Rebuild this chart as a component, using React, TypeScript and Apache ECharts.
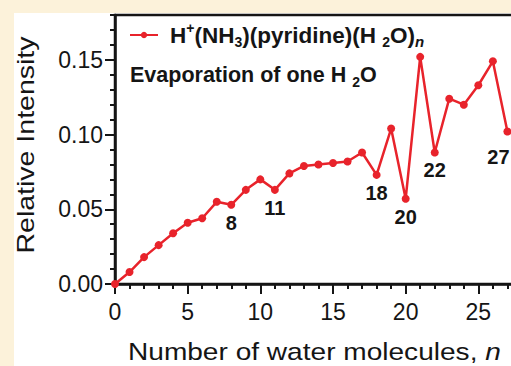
import React, { useEffect, useRef } from "react";
import * as echarts from "echarts";

const nValues = [0, 1, 2, 3, 4, 5, 6, 7, 8, 9, 10, 11, 12, 13, 14, 15, 16, 17, 18, 19, 20, 21, 22, 23, 24, 25, 26, 27];
const intensities = [
  0, 0.008, 0.018, 0.026, 0.034, 0.041, 0.044, 0.055, 0.053, 0.063, 0.07, 0.063, 0.074, 0.079,
  0.08, 0.081, 0.082, 0.088, 0.073, 0.104, 0.057, 0.152, 0.088, 0.124, 0.12, 0.133, 0.149, 0.102,
];
const labeledN = [8, 11, 18, 20, 22, 27];
const yMajorTicks = [0, 0.05, 0.1, 0.15];
const seriesName = "H+(NH3)(pyridine)(H2O)n";
const yTitle = "Relative Intensity";
const xTitle = "Number of water molecules, ";
const xTitleVar = "n";
const noteMain = "Evaporation of one H ";
const noteSub = "2";
const noteEnd = "O";

const FONT = "'Liberation Sans', Arial, Helvetica, sans-serif";
const RED = "#E8232B";
const INK = "#151515";

export default function App() {
  const ref = useRef<HTMLDivElement>(null);
  useEffect(() => {
    document.body.style.margin = "0";
    const chart = echarts.init(ref.current!, null, { renderer: "svg" });
    const data = nValues.map((n, i) => {
      const item: any = { value: [n, intensities[i]] };
      if (labeledN.includes(n)) {
        item.label = n === 27 ? { show: true, distance: 11, offset: [-9, 0] } : { show: true, distance: 4 };
      }
      return item;
    });
    chart.setOption({
      animation: false,
      backgroundColor: "#ffffff",
      textStyle: { fontFamily: FONT },
      grid: {
        left: 115,
        top: 15,
        bottom: 82,
        right: -40,
        show: true,
        borderColor: INK,
        borderWidth: 2.5,
        backgroundColor: "transparent",
        outerBoundsMode: "none",
      },
      legend: {
        data: [seriesName],
        left: 124,
        top: 16,
        itemWidth: 28,
        itemHeight: 8,
        formatter: () =>
          "{sp|}{b|H}{sup|+}{b|(NH}{sub|3}{b|)(pyridine)(H }{sub|2}{b|O)}{subi|n}",
        textStyle: {
          rich: {
            sp: { width: 7 },
            b: { fontSize: 22.5, fontWeight: "bold", color: INK, fontFamily: FONT, lineHeight: 28 },
            sup: { fontSize: 14, fontWeight: "bold", color: INK, fontFamily: FONT, verticalAlign: "top", lineHeight: 28 },
            sub: { fontSize: 14, fontWeight: "bold", color: INK, fontFamily: FONT, verticalAlign: "bottom", lineHeight: 28 },
            subi: { fontSize: 15, fontWeight: "bold", fontStyle: "italic", color: INK, fontFamily: FONT, verticalAlign: "bottom", lineHeight: 28 },
          },
        },
      },
      xAxis: {
        type: "value",
        min: 0,
        max: 30,
        interval: 5,
        axisLine: { show: true, onZero: false, lineStyle: { color: INK, width: 2.5 } },
        axisTick: { show: true, length: 10, lineStyle: { color: INK, width: 2 } },
        minorTick: { show: true, splitNumber: 5, length: 5, lineStyle: { color: INK, width: 2 } },
        axisLabel: { fontSize: 23, color: INK, margin: 16, showMaxLabel: false, fontFamily: FONT },
        splitLine: { show: false },
        minorSplitLine: { show: false },
      },
      yAxis: [
        {
          type: "value",
          position: "left",
          min: 0,
          max: 0.18,
          interval: 0.05,
          axisLine: { show: true, onZero: false, lineStyle: { color: INK, width: 2.5 } },
          axisTick: { show: true, length: 10, customValues: yMajorTicks, lineStyle: { color: INK, width: 2 } },
          axisLabel: {
            fontSize: 23,
            color: INK,
            margin: 12,
            customValues: yMajorTicks,
            fontFamily: FONT,
            formatter: (v: number) => v.toFixed(2),
          },
          splitLine: { show: false },
        },
        {
          type: "value",
          position: "left",
          offset: 0,
          min: 0,
          max: 0.18,
          interval: 0.01,
          axisLine: { show: false },
          axisTick: { show: true, length: 5, lineStyle: { color: INK, width: 2 } },
          axisLabel: { show: false },
          splitLine: { show: false },
        },
      ],
      graphic: [
        { type: "rect", shape: { x: 0, y: 0, width: 14, height: 366 }, style: { fill: "#FCF2DA" }, silent: true },
        { type: "rect", shape: { x: 0, y: 0, width: 511, height: 13 }, style: { fill: "#FCF2DA" }, silent: true },
        {
          type: "text",
          x: 26,
          y: 145,
          rotation: Math.PI / 2,
          scaleX: 1.24,
          style: {
            text: yTitle,
            fontSize: 23,
            fontFamily: FONT,
            fill: INK,
            align: "center",
            verticalAlign: "middle",
          },
        },
        {
          type: "text",
          x: 128,
          y: 352,
          scaleX: 1.17,
          style: {
            text: "{r|" + xTitle + "}{i|" + xTitleVar + "}",
            align: "left",
            verticalAlign: "middle",
            rich: {
              r: { fontSize: 24, fontFamily: FONT, fill: INK, color: INK },
              i: { fontSize: 24, fontFamily: FONT, fontStyle: "italic", fill: INK, color: INK },
            },
          },
        },
        {
          type: "text",
          x: 130,
          y: 75,
          style: {
            text: "{b|" + noteMain + "}{s|" + noteSub + "}{b|" + noteEnd + "}",
            align: "left",
            verticalAlign: "middle",
            rich: {
              b: { fontSize: 21.5, fontWeight: "bold", fontFamily: FONT, fill: INK, color: INK, lineHeight: 28 },
              s: { fontSize: 14, fontWeight: "bold", fontFamily: FONT, fill: INK, color: INK, verticalAlign: "bottom", lineHeight: 28 },
            },
          },
        },
      ],
      series: [
        {
          name: seriesName,
          type: "line",
          xAxisIndex: 0,
          yAxisIndex: 0,
          data,
          color: RED,
          symbol: "circle",
          symbolSize: 8,
          lineStyle: { color: RED, width: 2.5 },
          itemStyle: { color: RED },
          label: {
            show: false,
            position: "bottom",
            fontSize: 20,
            fontWeight: "bold",
            color: INK,
            fontFamily: FONT,
            formatter: (p: any) => String(p.value[0]),
          },
        },
      ],
    });
    return () => chart.dispose();
  }, []);
  return <div ref={ref} style={{ width: 511, height: 366 }} />;
}
